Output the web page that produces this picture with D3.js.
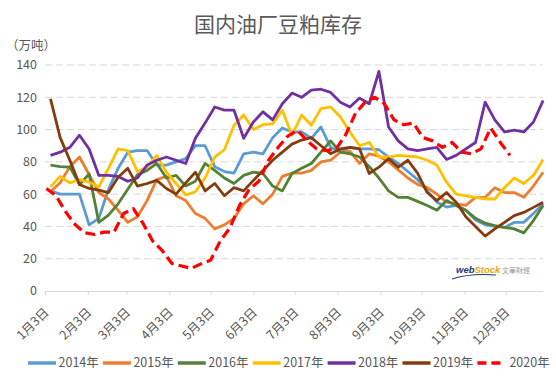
<!DOCTYPE html>
<html>
<head>
<meta charset="utf-8">
<script src="https://cdn.jsdelivr.net/npm/d3@7"></script>
<style>
  body { margin: 0; background: #fff; }
  text { font-family: "Noto Sans CJK SC", "Noto Sans", sans-serif; fill: #595959; }
</style>
</head>
<body>
<svg id="chart" width="556" height="387"></svg>

<script>
  // weekly soybean meal stocks, 10k tonnes
  var years = ["2014年", "2015年", "2016年", "2017年", "2018年", "2019年", "2020年"];
  var colors = ["#5B9BD5", "#ED7D31", "#548235", "#FFC000", "#7030A0", "#843C0C", "#FF0000"];
  var firstWeek = ["01-07", "01-07", "01-07", "01-07", "01-07", "01-07", "01-04"];

  var s2014 = [62,60,60,60,41,45,63,76,86,87,87,78,78,80,82,90,90,77,74,73,85,86,85,95,101,98.5,98.5,94.6,101.6,89,86,89,88,88,87.5,83,79,74,69,62,55,52,53,50,44,41,40,39.4,42.5,42.5,48,54];
  var s2015 = [61.5,67,77,83,72,61,57,50,42.5,46,56,69,71,59,56,48,45,38.5,41,45,54,59,54,60,71,73,73,74.7,80,81,86,86.5,79,85,83.5,80,75,70,66,64,60,55,54,53,58,58,64,61,61,58,65,73.6];
  var s2016 = [78,77,76.7,66,72.5,42.5,47,54,63,72,74.7,79,70,71.6,65,68,79,74.7,70,66.6,71.6,73.6,72.8,65,62,72.8,76,79,86,93,86,85,83,77,70,62,58,58,55.5,53,50,56,53,50,45,42,40.5,39.4,38.5,36,43.6,53];
  var s2017 = [64.5,71,67,69,67.4,64.5,76,88,87,74,76.7,84,73.6,66.6,59.5,61.5,70,83,87.5,102.7,109,100,103,103.5,112,96.5,109,102.7,113,114,108,98.5,90,92,83,83,84,83.5,83,81,78,67.4,60,59,58,57,57,64,70,66.6,71.6,81.5];
  var s2018 = [84,86,89,96.5,88,71.6,71.6,71,68,70,78,81,83,81,79,94.6,104,114,112,112,94.6,104.7,111,106,116,122.6,120,124.5,125,123,117,114,119.5,116,136,101.6,93,88,87,88,89,81.5,84,88,92,117,106,98.5,99.6,98.5,104.7,118];
  var s2019 = [119,95,81,66,63.5,62.5,61,70.5,76,65,66.6,68.5,63.5,60,67,73.6,62,66.6,59,64,62,68.5,74.7,81,86,91,93.5,95,90,85,88,89,88,72.8,76.7,82,76.7,81,73,61,56,61,55,46,40,34,38.5,42.5,46.7,48.7,51.8,55];
  var s2020 = [63.5,59,49,41,36,35,36.5,36.5,48,51,42,31,25,17,15.5,14,16.8,19,31,39,53,63,68,81,89,96,99.5,93,88,87,88,97,110,117,120,116,106,103,104,95,93,89,92,86,85,88,101,92,84];

  var yTicks = [0, 20, 40, 60, 80, 100, 120, 140];
  var monthTicks = ["01-03","02-03","03-03","04-03","05-03","06-03","07-03","08-03","09-03","10-03","11-03","12-03"];

  var allSeries = [s2014, s2015, s2016, s2017, s2018, s2019, s2020];

  var plotLeft = 45, plotRight = 544.5, plotTop = 65, plotBottom = 291;
  var parseDay = d3.timeParse("%Y-%m-%d");
  function day(md) { return parseDay("2019-" + md); }

  var x = d3.scaleTime().domain([day("01-03"), day("12-31")]).range([plotLeft, plotRight]);
  var y = d3.scaleLinear().domain([0, 140]).range([plotBottom, plotTop]);

  var svg = d3.select("#chart");

  // title and unit
  svg.append("text").attr("x", 278).attr("y", 32).attr("text-anchor", "middle")
    .style("font-size", "21px").text("国内油厂豆粕库存");
  svg.append("text").attr("x", 6).attr("y", 50).style("font-size", "12.5px").text("（万吨）");

  // gridlines
  svg.selectAll(".grid").data(yTicks.filter(function(d) { return d > 0; }))
    .enter().append("line")
    .attr("x1", plotLeft).attr("x2", 543)
    .attr("y1", function(d) { return y(d); }).attr("y2", function(d) { return y(d); })
    .attr("stroke", "#d9d9d9").attr("stroke-width", 1).attr("stroke-dasharray", "7,4");

  // y labels
  svg.selectAll(".ylab").data(yTicks).enter().append("text")
    .attr("x", 37).attr("y", function(d) { return y(d); }).attr("dy", "0.35em")
    .attr("text-anchor", "end").style("font-size", "12.5px")
    .text(function(d) { return d; });

  // x axis
  var xAxis = d3.axisBottom(x)
    .tickValues(monthTicks.map(day))
    .tickSize(4)
    .tickFormat(function(d) { return (d.getMonth() + 1) + "月3日"; });
  var gx = svg.append("g").attr("transform", "translate(0," + plotBottom + ")").call(xAxis);
  gx.select(".domain").attr("stroke", "#d9d9d9").attr("d", "M" + plotLeft + ",0.5H543");
  gx.selectAll(".tick line").attr("stroke", "#d9d9d9");
  gx.selectAll(".tick text")
    .attr("text-anchor", "end")
    .attr("y", 0).attr("dy", "0.35em")
    .attr("transform", "translate(1,19) rotate(-45)")
    .style("font-size", "12.5px").style("fill", "#595959")
    .style("font-family", "\"Noto Sans CJK SC\", sans-serif");

  // watermark
  var wm = svg.append("g");
  wm.append("text").attr("x", 456).attr("y", 273)
    .style("font-family", "Arial, \"Liberation Sans\", sans-serif").style("font-size", "9.5px")
    .style("font-weight", "bold").style("font-style", "italic")
    .html('<tspan style="fill:#1f3b78">web</tspan><tspan style="fill:#f0a500">Stock</tspan>');
  wm.append("path").attr("d", "M452,279 Q470,273 496,275").attr("fill", "none")
    .attr("stroke", "#1f3b78").attr("stroke-width", 1.2);
  wm.append("text").attr("x", 502).attr("y", 273).style("font-size", "7px").style("fill", "#9a9a9a").text("文華財經");

  // series lines
  var line = d3.line()
    .x(function(d) { return x(d.date); })
    .y(function(d) { return y(d.v); });

  allSeries.forEach(function(vals, k) {
    var start = day(firstWeek[k]);
    var pts = vals.map(function(v, i) { return { date: d3.timeDay.offset(start, 7 * i), v: v }; });
    svg.append("path").datum(pts)
      .attr("d", line)
      .attr("fill", "none")
      .attr("stroke", colors[k])
      .attr("stroke-width", k == 6 ? 3.2 : 2.8)
      .attr("stroke-linejoin", "round")
      .attr("stroke-dasharray", k == 6 ? "10,5" : null);
  });

  // legend
  var legend = svg.append("g").attr("transform", "translate(0,363)");
  var items = legend.selectAll("g").data(years).enter().append("g")
    .attr("transform", function(d, i) { return "translate(" + (28 + i * 74.9) + ",0)"; });
  items.append("line")
    .attr("x1", 0).attr("x2", function(d, i) { return i == 6 ? 23 : 28; })
    .attr("y1", 0).attr("y2", 0)
    .attr("stroke", function(d, i) { return colors[i]; })
    .attr("stroke-width", 3.5)
    .attr("stroke-dasharray", function(d, i) { return i == 6 ? "9,5" : null; });
  items.append("text")
    .attr("x", function(d, i) { return i == 6 ? 32 : 30.5; }).attr("y", 0).attr("dy", "0.35em")
    .style("font-size", "12.5px")
    .text(function(d) { return d; });
</script>
</body>
</html>
